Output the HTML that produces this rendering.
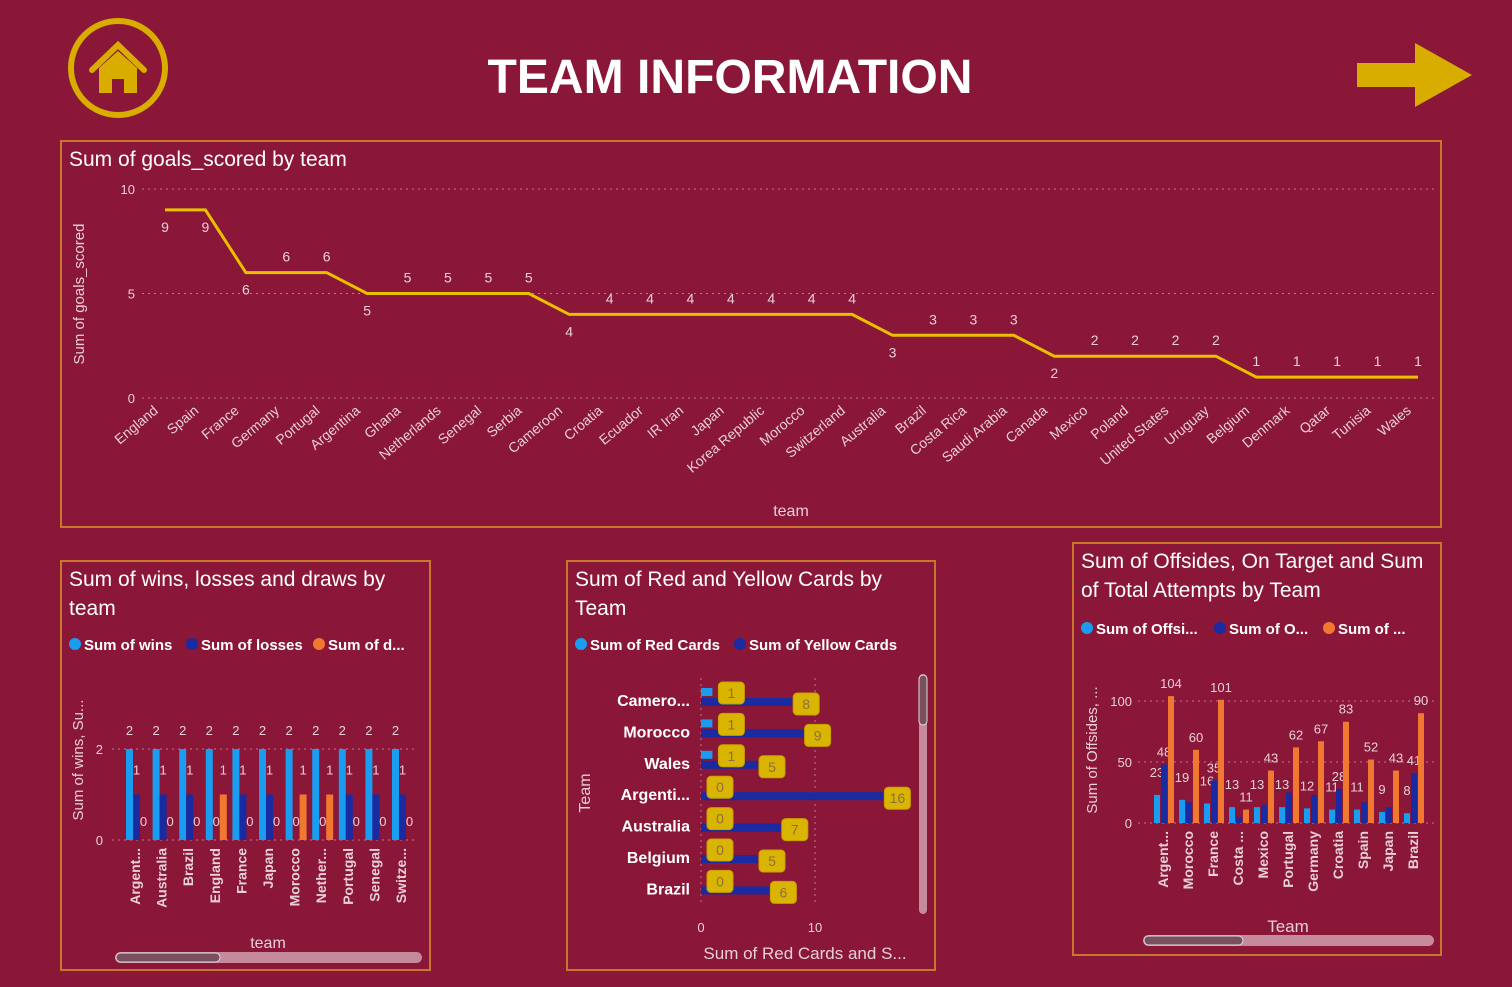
<!DOCTYPE html>
<html><head><meta charset="utf-8"><style>
body{margin:0;background:#8a1638;width:1512px;height:982px;overflow:hidden;font-family:"Liberation Sans",sans-serif}
svg text{font-family:"Liberation Sans",sans-serif}
</style></head><body>
<svg id="s" width="1512" height="982" xmlns="http://www.w3.org/2000/svg">
<rect width="1512" height="982" fill="#8a1638"/>
<g>
<circle cx="118" cy="68" r="47" fill="none" stroke="#d9ad00" stroke-width="6"/>
<path d="M92,70 L118,45 L144,70" fill="none" stroke="#d9ad00" stroke-width="6" stroke-linecap="round"/>
<path d="M99,68 L118,51 L137,68 L137,93 L124,93 L124,79 L112,79 L112,93 L99,93Z" fill="#d9ad00"/>
</g>
<text x="730" y="93" text-anchor="middle" fill="#fff" font-size="48" font-weight="bold" textLength="485" lengthAdjust="spacingAndGlyphs">TEAM INFORMATION</text>
<path d="M1357,63 L1415,63 L1415,43 L1472,75 L1415,107 L1415,87 L1357,87Z" fill="#d9ad00"/>
<g id="top"></g>
<g id="wld"></g>
<g id="cards"></g>
<g id="att"></g>
</svg>
<script>
const goalTeams=["England","Spain","France","Germany","Portugal","Argentina","Ghana","Netherlands","Senegal","Serbia","Cameroon","Croatia","Ecuador","IR Iran","Japan","Korea Republic","Morocco","Switzerland","Australia","Brazil","Costa Rica","Saudi Arabia","Canada","Mexico","Poland","United States","Uruguay","Belgium","Denmark","Qatar","Tunisia","Wales"];
const goalValues=[9,9,6,6,6,5,5,5,5,5,4,4,4,4,4,4,4,4,3,3,3,3,2,2,2,2,2,1,1,1,1,1];
const goalTicks=[0,5,10];
const wldTeams=["Argent...","Australia","Brazil","England","France","Japan","Morocco","Nether...","Portugal","Senegal","Switze..."];
const wins=[2,2,2,2,2,2,2,2,2,2,2];
const losses=[1,1,1,0,1,1,0,0,1,1,1];
const draws=[0,0,0,1,0,0,1,1,0,0,0];
const wldTicks=[0,2];
const cardTeams=["Camero...","Morocco","Wales","Argenti...","Australia","Belgium","Brazil"];
const redCards=[1,1,1,0,0,0,0];
const yellowCards=[8,9,5,16,7,5,6];
const cardTicks=[0,10];
const attTeams=["Argent...","Morocco","France","Costa ...","Mexico","Portugal","Germany","Croatia","Spain","Japan","Brazil"];
const offsides=[23,19,16,13,13,13,12,11,11,9,8];
const onTarget=[48,17,35,5,15,25,23,28,17,13,41];
const attempts=[104,60,101,11,43,62,67,83,52,43,90];
const attTicks=[0,50,100];

const NS="http://www.w3.org/2000/svg";
function el(p,t,a,txt){const e=document.createElementNS(NS,t);for(const k in a)e.setAttribute(k,a[k]);if(txt!==undefined)e.textContent=txt;p.appendChild(e);return e;}
function frame(g,x,y,w,h){const r=el(g,'rect',{x:x,y:y,width:w,height:h,fill:'none',stroke:'#c8772a','stroke-width':2});

}
function T(g,x,y,s,opt){const t=el(g,'text',Object.assign({x:x,y:y,fill:'#fff','font-size':12},opt||{}),s);return t;}
const LBL='#e8d0d8';

// TOP
(function(){const g=document.getElementById('top');frame(g,61,141,1380,386);
let t=T(g,69,166,'Sum of goals_scored by team',{'font-size':21});


const X=i=>165+i*(1418-165)/(goalTeams.length-1), Y=v=>398-v*20.9;
goalTicks.forEach(v=>{el(g,'line',{x1:142,x2:1436,y1:Y(v),y2:Y(v),stroke:'#c07890','stroke-dasharray':'2,4'});
const tk=T(g,135,Y(v)+5,String(v),{'text-anchor':'end',fill:LBL,'font-size':13});

});
const yt=T(g,84,294,'Sum of goals_scored',{transform:'rotate(-90 84 294)','text-anchor':'middle','font-size':15,fill:LBL});


const xt=T(g,791,516,'team',{'text-anchor':'middle','font-size':16,fill:LBL});


const line=el(g,'polyline',{points:goalValues.map((v,i)=>X(i)+','+Y(v)).join(' '),fill:'none',stroke:'#e8c000','stroke-width':3});


goalValues.forEach((v,i)=>{const below=i<2||(v<goalValues[i-1]&&v>1);
const l=T(g,X(i),below?Y(v)+22:Y(v)-11,String(v),{'text-anchor':'middle',fill:LBL,'font-size':14});


const c=T(g,X(i)-6,412,goalTeams[i],{'text-anchor':'end',fill:LBL,'font-size':14,transform:`rotate(-40 ${X(i)-6} 412)`});

});})();

// WLD
(function(){const g=document.getElementById('wld');frame(g,61,561,369,409);
[['Sum of wins, losses and draws by',586],['team',615]].forEach(a=>{const t=T(g,69,a[1],a[0],{'font-size':21});

});
[['Sum of wins','#1a9cf0',69],['Sum of losses','#1a2aa0',186],['Sum of d...','#f07830',313]].forEach(a=>{el(g,'circle',{cx:a[2]+6,cy:644,r:6,fill:a[1]});
const t=T(g,a[2]+15,650,a[0],{'font-size':15,'font-weight':'bold'});

});
const X=i=>135+i*26.6, Y=v=>840-v*45.5;
wldTicks.forEach(v=>{el(g,'line',{x1:112,x2:418,y1:Y(v),y2:Y(v),stroke:'#c07890','stroke-dasharray':'2,4'});
const tk=T(g,103,Y(v)+5,String(v),{'text-anchor':'end',fill:LBL,'font-size':13});

});
const yt=T(g,83,760,'Sum of wins, Su...',{transform:'rotate(-90 83 760)','text-anchor':'middle','font-size':15,fill:LBL});


[[wins,'#1a9cf0',-9],[losses,'#1a2aa0',-2],[draws,'#f07830',5]].forEach(s=>{s[0].forEach((v,i)=>{const x=X(i)+s[2];
const b=el(g,'rect',{x:x,y:Y(v),width:7,height:840-Y(v),fill:s[1]});


const ly=v===0?826:(v===1?Y(v)-20:Y(v)-14);
const l=T(g,x+3.5,ly,String(v),{'text-anchor':'middle',fill:LBL,'font-size':13});

});});
wldTeams.forEach((c,i)=>{const t=T(g,X(i)+5,848,c,{'text-anchor':'end','font-size':14,'font-weight':'bold',fill:LBL,transform:`rotate(-90 ${X(i)+5} 848)`});

});
const xt=T(g,268,948,'team',{'text-anchor':'middle','font-size':16,fill:LBL});


el(g,'rect',{x:115,y:952,width:307,height:11,rx:5.5,fill:'#c58a9c'});
const sb=el(g,'rect',{x:116,y:953,width:104,height:9,rx:4.5,fill:'#7a5060',stroke:'#ddd'});

})();

// CARDS
(function(){const g=document.getElementById('cards');frame(g,567,561,368,409);
[['Sum of Red and Yellow Cards by',586],['Team',615]].forEach(a=>{const t=T(g,575,a[1],a[0],{'font-size':21});

});
[['Sum of Red Cards','#1a9cf0',575],['Sum of Yellow Cards','#1a2aa0',734]].forEach(a=>{el(g,'circle',{cx:a[2]+6,cy:644,r:6,fill:a[1]});
const t=T(g,a[2]+15,650,a[0],{'font-size':15,'font-weight':'bold'});

});
const X=v=>701+v*11.4, Y=i=>700+i*31.4;
cardTicks.forEach(v=>{el(g,'line',{x1:X(v),x2:X(v),y1:678,y2:905,stroke:'#c07890','stroke-dasharray':'2,4'});
const tk=T(g,X(v),932,String(v),{'text-anchor':'middle',fill:LBL,'font-size':13});

});
const yt=T(g,590,793,'Team',{transform:'rotate(-90 590 793)','text-anchor':'middle','font-size':16,fill:LBL});


const xt=T(g,805,959,'Sum of Red Cards and S...',{'text-anchor':'middle','font-size':17,fill:LBL});


cardTeams.forEach((c,i)=>{const t=T(g,690,Y(i)+6,c,{'text-anchor':'end','font-size':16,'font-weight':'bold'});


const yb=el(g,'rect',{x:X(0),y:Y(i)-2,width:yellowCards[i]*11.4,height:8,fill:'#1a2aa0'});


const rb=el(g,'rect',{x:X(0),y:Y(i)-12,width:redCards[i]*11.4,height:8,fill:'#1a9cf0'});


[[redCards[i],Math.max(X(redCards[i])+19,X(0)+18),Y(i)-7],[yellowCards[i],X(yellowCards[i])+14,Y(i)+4]].forEach(d=>{
const bx=el(g,'rect',{x:d[1]-13,y:d[2]-11,width:26,height:22,rx:4,fill:'#d9b400',stroke:'#c8a000'});


const l=T(g,d[1],d[2]+5,String(d[0]),{'text-anchor':'middle','font-size':14,fill:'#8a7040'});

});});
el(g,'rect',{x:919,y:674,width:8,height:240,rx:4,fill:'#c58a9c'});
const sb=el(g,'rect',{x:919,y:675,width:8,height:50,rx:4,fill:'#7a5060',stroke:'#ddd'});

})();

// ATTEMPTS
(function(){const g=document.getElementById('att');frame(g,1073,543,368,412);
[['Sum of Offsides, On Target and Sum',568],['of Total Attempts by Team',597]].forEach(a=>{const t=T(g,1081,a[1],a[0],{'font-size':21});

});
[['Sum of Offsi...','#1a9cf0',1081],['Sum of O...','#1a2aa0',1214],['Sum of ...','#f07830',1323]].forEach(a=>{el(g,'circle',{cx:a[2]+6,cy:628,r:6,fill:a[1]});
const t=T(g,a[2]+15,634,a[0],{'font-size':15,'font-weight':'bold'});

});
const X=i=>1163+i*25, Y=v=>823-v*1.22;
attTicks.forEach(v=>{el(g,'line',{x1:1138,x2:1435,y1:Y(v),y2:Y(v),stroke:'#c07890','stroke-dasharray':'2,4'});
const tk=T(g,1132,Y(v)+5,String(v),{'text-anchor':'end',fill:LBL,'font-size':13});

});
const yt=T(g,1097,750,'Sum of Offsides, ...',{transform:'rotate(-90 1097 750)','text-anchor':'middle','font-size':15,fill:LBL});


[[offsides,'#1a9cf0',-9],[onTarget,'#1a2aa0',-2],[attempts,'#f07830',5]].forEach((s,k)=>{s[0].forEach((v,i)=>{const x=X(i)+s[2];
const b=el(g,'rect',{x:x,y:Y(v),width:6,height:823-Y(v),fill:s[1]});


if(k===1&&v<28)return;
const l=T(g,x+3,Y(v)-8-(k===0?10:0),String(v),{'text-anchor':'middle',fill:LBL,'font-size':13});

});});
attTeams.forEach((c,i)=>{const t=T(g,X(i)+5,831,c,{'text-anchor':'end','font-size':14,'font-weight':'bold',fill:LBL,transform:`rotate(-90 ${X(i)+5} 831)`});

});
const xt=T(g,1288,932,'Team',{'text-anchor':'middle','font-size':17,fill:LBL});


el(g,'rect',{x:1143,y:935,width:291,height:11,rx:5.5,fill:'#c58a9c'});
const sb=el(g,'rect',{x:1144,y:936,width:99,height:9,rx:4.5,fill:'#7a5060',stroke:'#ddd'});

})();
</script>
</body></html>
